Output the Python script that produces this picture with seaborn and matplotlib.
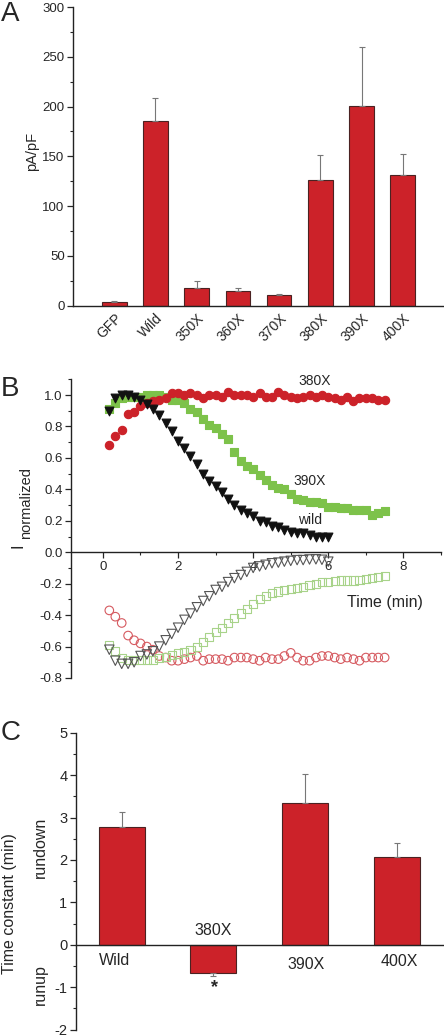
import numpy as np
import pandas as pd
import matplotlib
matplotlib.use('Agg')
import matplotlib.pyplot as plt
import seaborn as sns
from matplotlib.ticker import MultipleLocator

# Panel A: current density per construct
a_groups = ['GFP', 'Wild', '350X', '360X', '370X', '380X', '390X', '400X']
a_mean = [3.5, 186, 18, 15, 11, 126, 201, 131]
a_err = [1, 23, 6.5, 2.5, 0.7, 25, 59, 21]

# Panel B: normalized current vs time (min)
time_min = [0.17, 0.33, 0.5, 0.67, 0.83, 1.0, 1.17, 1.33, 1.5, 1.67, 1.83, 2.0,
            2.17, 2.33, 2.5, 2.67, 2.83, 3.0, 3.17, 3.33, 3.5, 3.67, 3.83, 4.0,
            4.17, 4.33, 4.5, 4.67, 4.83, 5.0, 5.17, 5.33, 5.5, 5.67, 5.83, 6.0,
            6.17, 6.33, 6.5, 6.67, 6.83, 7.0, 7.17, 7.33, 7.5]
i_380 = [0.68, 0.74, 0.78, 0.88, 0.89, 0.93, 0.95, 0.96, 0.97, 0.98,
         1.01, 1.01, 1.00, 1.01, 1.00, 0.98, 1.00, 1.00, 0.99, 1.02,
         1.00, 1.00, 1.00, 0.99, 1.01, 0.99, 0.99, 1.02, 1.00, 0.99,
         0.98, 0.99, 1.00, 0.99, 1.00, 0.99, 0.98, 0.97, 0.99, 0.96,
         0.98, 0.98, 0.98, 0.97, 0.97]
i_390 = [0.91, 0.95, 0.98, 0.99, 0.99, 0.99, 1.00, 1.00, 1.00, 0.99,
         0.97, 0.97, 0.95, 0.91, 0.89, 0.85, 0.81, 0.79, 0.75, 0.72,
         0.64, 0.58, 0.55, 0.53, 0.49, 0.46, 0.43, 0.41, 0.40, 0.37,
         0.34, 0.33, 0.32, 0.32, 0.31, 0.29, 0.29, 0.28, 0.28, 0.27,
         0.27, 0.27, 0.24, 0.25, 0.26]
i_wild = [0.90, 0.98, 1.00, 1.00, 0.99, 0.97, 0.94, 0.91, 0.87, 0.82,
          0.77, 0.71, 0.66, 0.61, 0.56, 0.50, 0.45, 0.42, 0.38, 0.34,
          0.30, 0.27, 0.25, 0.23, 0.20, 0.19, 0.17, 0.16, 0.14, 0.13,
          0.12, 0.12, 0.11, 0.10, 0.10, 0.10]
o_380 = [-0.37, -0.41, -0.45, -0.53, -0.56, -0.58, -0.60, -0.62, -0.66, -0.67,
         -0.69, -0.69, -0.68, -0.67, -0.66, -0.69, -0.68, -0.68, -0.68, -0.69,
         -0.67, -0.67, -0.67, -0.68, -0.69, -0.67, -0.68, -0.68, -0.66, -0.64,
         -0.67, -0.69, -0.69, -0.67, -0.66, -0.66, -0.67, -0.68, -0.67, -0.68,
         -0.69, -0.67, -0.67, -0.67, -0.67]
o_390 = [-0.59, -0.63, -0.675, -0.686, -0.686, -0.686, -0.686, -0.686, -0.675, -0.665,
         -0.654, -0.644, -0.633, -0.62, -0.60, -0.57, -0.54, -0.51, -0.48, -0.45,
         -0.42, -0.39, -0.36, -0.33, -0.30, -0.28, -0.26, -0.25, -0.24, -0.235,
         -0.23, -0.22, -0.21, -0.20, -0.19, -0.19, -0.185, -0.18, -0.18, -0.18,
         -0.175, -0.17, -0.165, -0.16, -0.15]
o_wild = [-0.62, -0.69, -0.71, -0.71, -0.70, -0.66, -0.65, -0.63, -0.60, -0.56,
          -0.52, -0.48, -0.43, -0.39, -0.35, -0.31, -0.28, -0.24, -0.22, -0.19,
          -0.165, -0.145, -0.125, -0.10, -0.09, -0.08, -0.07, -0.066, -0.06, -0.055,
          -0.05, -0.05, -0.046, -0.045, -0.048, -0.06]

# Panel C: time constants
c_groups = ['Wild', '380X', '390X', '400X']
c_mean = [2.77, -0.66, 3.35, 2.07]
c_err_low = [0, 0.07, 0, 0]
c_err_high = [0.36, 0, 0.68, 0.33]

RED = '#cc2229'
EDGE = '#4a2222'

sns.set_style('ticks')
plt.rcParams['font.family'] = ['Liberation Sans', 'DejaVu Sans']
plt.rcParams['axes.unicode_minus'] = False

W, H = 444, 1036
fig = plt.figure(figsize=(W / 100, H / 100), dpi=100)


def px_axes(x0, x1, ytop, ybot):
    return fig.add_axes([x0 / W, 1 - ybot / H, (x1 - x0) / W, (ybot - ytop) / H])


def style_axis(ax, size=9.5):
    for s in ['top', 'right']:
        ax.spines[s].set_visible(False)
    for s in ['left', 'bottom']:
        ax.spines[s].set_linewidth(1.0)
        ax.spines[s].set_color('#222222')
    ax.tick_params(axis='y', which='major', length=4, width=0.9, direction='out', labelsize=size, pad=2)
    ax.tick_params(axis='y', which='minor', length=2.5, width=0.8, direction='out')


# ---- Panel A ----
axA = px_axes(73, 444, 7, 305.7)
dfA = pd.DataFrame({'group': a_groups, 'value': a_mean})
sns.barplot(data=dfA, x='group', y='value', ax=axA, color=RED, width=0.6,
            edgecolor=EDGE, linewidth=0.8, saturation=1)
axA.errorbar(np.arange(len(a_groups)), a_mean, yerr=[np.zeros(len(a_err)), a_err],
             fmt='none', ecolor='#777777', elinewidth=0.8, capsize=2.5, capthick=0.8, zorder=1)
axA.set_xlim(-1.0, 8.0)
axA.set_ylim(0, 300)
axA.yaxis.set_major_locator(MultipleLocator(50))
axA.yaxis.set_minor_locator(MultipleLocator(25))
style_axis(axA)
axA.tick_params(axis='x', length=0, labelsize=10, pad=4)
plt.setp(axA.get_xticklabels(), rotation=45, ha='right', rotation_mode='anchor')
axA.set_xlabel('')
axA.set_ylabel('')
fig.text(32 / W, 1 - 151 / H, 'pA/pF', rotation=90, ha='center', va='center', fontsize=10.5)
fig.text(1 / W, 1 - 1 / H, 'A', ha='left', va='top', fontsize=20)

# ---- Panel B ----
axB = px_axes(71, 441, 379.3, 678)
n_w = len(i_wild)
series = [
    (time_min, o_380, 'o', 'none', '#d65a60', 38),
    (time_min, o_390, 's', 'none', '#a8d38a', 34),
    (time_min[:n_w], o_wild, 'v', 'none', '#555555', 46),
    (time_min, i_390, 's', '#7dc24a', '#7dc24a', 30),
    (time_min, i_380, 'o', RED, RED, 36),
    (time_min[:n_w], i_wild, 'v', '#111111', '#111111', 40),
]
for t, v, mk, fc, ec, sz in series:
    sns.scatterplot(x=t, y=v, ax=axB, marker=mk, s=sz, facecolor=fc,
                    edgecolor=ec, linewidth=0.8, legend=False)
axB.set_xlim(-0.85, 9.0)
axB.set_ylim(-0.8, 1.1)
axB.spines['bottom'].set_position(('data', 0))
axB.yaxis.set_minor_locator(MultipleLocator(0.1))
axB.xaxis.set_minor_locator(MultipleLocator(1))
style_axis(axB)
axB.tick_params(axis='x', which='major', length=4, width=0.9, direction='out', labelsize=9.5, pad=2)
axB.tick_params(axis='x', which='minor', length=2.5, width=0.8, direction='out')
axB.set_xticks([0, 2, 4, 6, 8])
axB.set_yticks(np.round(np.arange(-0.8, 1.01, 0.2), 1))
axB.set_yticklabels(['-0.8', '-0.6', '-0.4', '-0.2', '0.0', '0.2', '0.4', '0.6', '0.8', '1.0'])
axB.set_xlabel('')
axB.set_ylabel('')
axB.text(5.64, 1.09, '380X', ha='center', va='center', fontsize=10)
axB.text(5.5, 0.45, '390X', ha='center', va='center', fontsize=10)
axB.text(5.5, 0.205, 'wild', ha='center', va='center', fontsize=10)
axB.text(6.5, -0.32, 'Time (min)', ha='left', va='center', fontsize=11.5)
fig.text(18 / W, 1 - 546 / H, 'I', rotation=90, ha='center', va='center', fontsize=12)
fig.text(26 / W, 1 - 503 / H, 'normalized', rotation=90, ha='center', va='center', fontsize=10.5)
fig.text(1 / W, 1 - 376 / H, 'B', ha='left', va='top', fontsize=20)

# ---- Panel C ----
axC = px_axes(75.7, 443, 732.7, 1029.5)
dfC = pd.DataFrame({'group': c_groups, 'value': c_mean})
sns.barplot(data=dfC, x='group', y='value', ax=axC, color=RED, width=0.5,
            edgecolor=EDGE, linewidth=0.8, saturation=1)
axC.errorbar(np.arange(len(c_groups)), c_mean, yerr=[c_err_low, c_err_high],
             fmt='none', ecolor='#777777', elinewidth=0.8, capsize=2.5, capthick=0.8, zorder=1)
axC.set_xlim(-0.5, 3.5)
axC.set_ylim(-2, 5)
axC.spines['bottom'].set_position(('data', 0))
axC.yaxis.set_major_locator(MultipleLocator(1))
axC.yaxis.set_minor_locator(MultipleLocator(0.5))
style_axis(axC, size=10.5)
axC.set_xticks([])
axC.set_xlabel('')
axC.set_ylabel('')
axC.text(-0.08, -0.37, 'Wild', ha='center', va='center', fontsize=11.5)
axC.text(1.0, 0.33, '380X', ha='center', va='center', fontsize=11.5)
axC.text(2.01, -0.46, '390X', ha='center', va='center', fontsize=11.5)
axC.text(3.02, -0.40, '400X', ha='center', va='center', fontsize=11.5)
axC.text(1.01, -1.0, '*', ha='center', va='center', fontsize=13, fontweight='bold')
fig.text(10 / W, 1 - 904 / H, 'Time constant (min)', rotation=90, ha='center', va='center', fontsize=11.5)
fig.text(40 / W, 1 - 847 / H, 'rundown', rotation=90, ha='center', va='center', fontsize=11.5)
fig.text(40 / W, 1 - 985 / H, 'runup', rotation=90, ha='center', va='center', fontsize=11.5)
fig.text(1 / W, 1 - 720 / H, 'C', ha='left', va='top', fontsize=20)

fig.savefig('out.png', dpi=100)
